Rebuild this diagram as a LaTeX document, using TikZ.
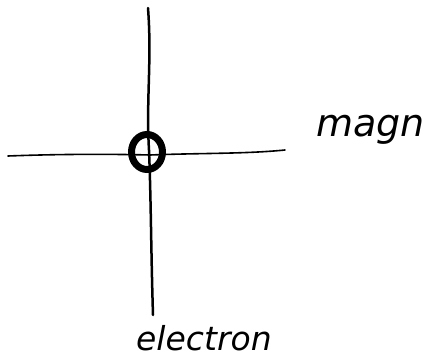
\documentclass[tikz,border=0pt]{standalone}
\usepackage{fontspec}
\setmainfont{DejaVu Sans}
\usetikzlibrary{shapes.geometric}
\begin{document}
\begin{tikzpicture}[x=1pt,y=-1pt,
  stroke/.style={line width=2.5pt,line cap=round,line join=round},
  hand/.style={inner sep=0pt}]
\useasboundingbox (0,0) rectangle (434,364);
\coordinate (vt) at (148,8);
\coordinate (vb) at (153,315);
\coordinate (hl) at (8,156);
\coordinate (hr) at (285,150);
\draw[stroke] (vt) .. controls (152,60) and (146,100) .. (149,150) .. controls (151,200) and (151,250) .. (vb);
\draw[stroke,line width=1.6pt] (hl) .. controls (60,154) and (110,154) .. (150,155) .. controls (200,153) and (245,154) .. (hr);
\node[draw,ellipse,line width=7pt,minimum width=31pt,minimum height=35pt,inner sep=0pt] (o) at (147,152) {};
\node[hand,anchor=west,font=\fontsize{38}{40}\selectfont\itshape] (magn) at (316,130) {magn};
\node[hand,anchor=west,font=\fontsize{33}{35}\selectfont\itshape] (el) at (136,338) {electron};
\end{tikzpicture}
\end{document}
